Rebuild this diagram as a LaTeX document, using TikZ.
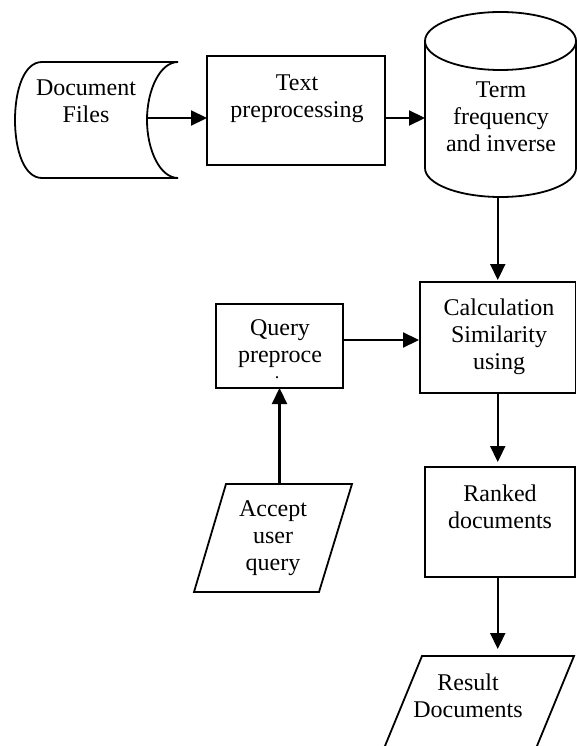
\documentclass[tikz,border=0pt]{standalone}
\usepackage{fontspec}
\setmainfont{Liberation Serif}
\usetikzlibrary{arrows.meta}
\begin{document}
\begin{tikzpicture}[x=1pt, y=-1pt,
  procbox/.style={draw, line width=1.8pt, rectangle, inner sep=0pt, outer sep=0pt},
  holder/.style={rectangle, inner sep=0pt, outer sep=0pt},
  shapeline/.style={draw, line width=1.8pt, line join=miter},
  lbl/.style={font=\fontsize{24}{27}\selectfont, align=center, inner sep=0pt, anchor=north},
  flow/.style={line width=2.2pt, -{Triangle[length=16pt,width=15pt]}}
]
\fill[white] (0,0) rectangle (577,746);
\useasboundingbox (0,0) rectangle (577,746);
\clip (0,0) rectangle (577,746);

% Document Files (stored data)
\node[holder, minimum width=132pt, minimum height=116pt] (docs) at (81,120) {};
\draw[shapeline] (42,62) -- (178,62) .. controls (160,62) and (147,90) .. (147,120)
  .. controls (147,150) and (160,178) .. (178,178) -- (42,178)
  .. controls (24,178) and (15,150) .. (15,120) .. controls (15,90) and (24,62) .. (42,62) -- cycle;
\node[lbl] (docstext) at (86,76.1) {\strut Document\\\strut Files};

% Text preprocessing
\node[procbox, minimum width=178pt, minimum height=109pt] (tp) at (296,110.5) {};
\node[lbl] (tptext) at (297,71.1) {\strut Text\\\strut preprocessing};

% Term frequency cylinder
\node[holder, minimum width=151pt, minimum height=185pt] (cyl) at (500.5,104.5) {};
\draw[shapeline] (500.5,41) ellipse [x radius=75.5pt, y radius=29pt];
\draw[shapeline] (425,41) -- (425,168) arc[start angle=180, end angle=360, x radius=75.5pt, y radius=29pt] -- (576,41);
\node[lbl] (cyltext) at (501,78.1) {\strut Term\\\strut frequency\\\strut and inverse};

% Calculation Similarity
\node[procbox, minimum width=155.5pt, minimum height=111pt] (calc) at (497.75,337.5) {};
\node[lbl] (calctext) at (499,296.1) {\strut Calculation\\\strut Similarity\\\strut using};

% Query preprocessing
\node[procbox, minimum width=127pt, minimum height=84pt] (qry) at (279.5,346) {};
\node[lbl] (qrytext) at (280,316.1) {\strut Query\\\strut preproce};
\node[font=\fontsize{18}{20}\selectfont, inner sep=0pt, anchor=base] (qrydot) at (277,378.5) {.};

% Accept user query
\node[holder, minimum width=125.5pt, minimum height=108pt] (acc) at (272.75,538) {};
\draw[shapeline] (226,484) -- (352,484) -- (319,592) -- (194,592) -- cycle;
\node[lbl] (acctext) at (273,497.1) {\strut Accept\\\strut user\\\strut query};

% Ranked documents
\node[procbox, minimum width=150pt, minimum height=110pt] (rank) at (500,522) {};
\node[lbl] (ranktext) at (500,482.1) {\strut Ranked\\\strut documents};

% Result Documents
\node[holder, minimum width=152pt, minimum height=90pt] (res) at (498,701) {};
\draw[shapeline] (422,656) -- (574,656) -- (531.2,760) -- (379.2,760) -- cycle;
\node[lbl] (restext) at (468,671.1) {\strut Result\\\strut Documents};

% connectors
\coordinate (row) at (0,118);
\coordinate (qrow) at (0,340);
\draw[flow] (docs.east |- row) -- (tp.west |- row);
\draw[flow] (tp.east |- row) -- (cyl.west |- row);
\draw[flow, shorten >=2pt] (calc.north |- cyl.south) -- (calc.north);
\draw[flow, shorten >=1pt] (qry.east |- qrow) -- (calc.west |- qrow);
\draw[flow] (acc.north -| qry.south) -- (qry.south);
\draw[flow, shorten >=5pt] (calc.south) -- (calc.south |- rank.north);
\draw[flow, shorten >=7pt] (calc.south |- rank.south) -- (calc.south |- res.north);
\end{tikzpicture}
\end{document}
